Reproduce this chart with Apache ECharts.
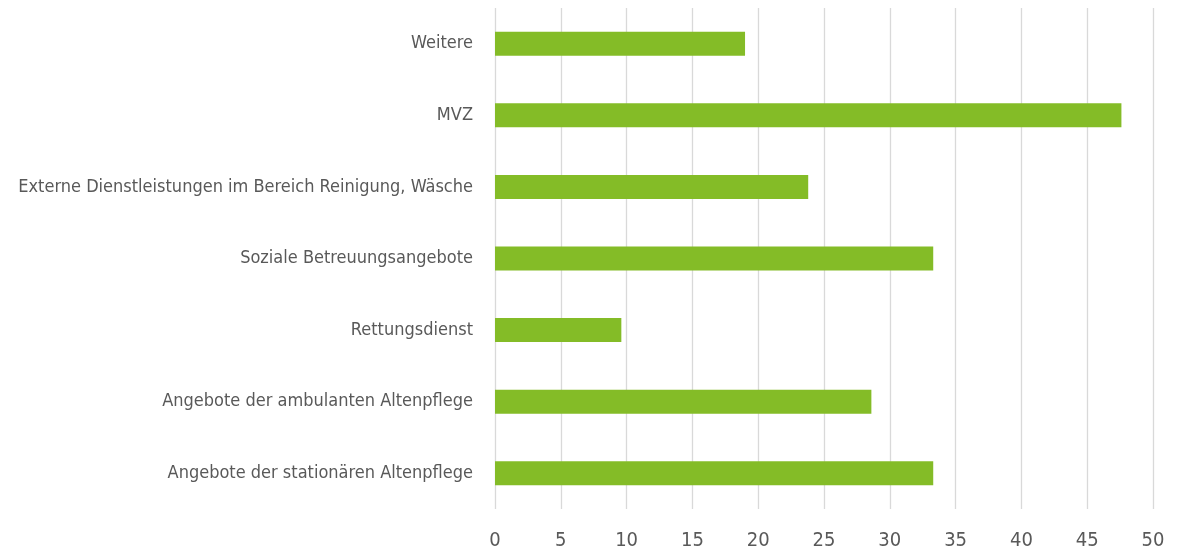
<!DOCTYPE html>
<html>
<head>
<meta charset="utf-8">
<script src="https://cdn.jsdelivr.net/npm/echarts@6/dist/echarts.min.js"></script>
<style>
  html, body { margin: 0; padding: 0; background: #fff; }
  #chart { width: 1191px; height: 553px; }
</style>
</head>
<body>
<div id="chart"></div>
<script>
// categories bottom to top (as on the y axis)
var categories = [
  'Angebote der stationären Altenpflege',
  'Angebote der ambulanten Altenpflege',
  'Rettungsdienst',
  'Soziale Betreuungsangebote',
  'Externe Dienstleistungen im Bereich Reinigung, Wäsche',
  'MVZ',
  'Weitere'
];
var values = [33.3, 28.6, 9.6, 33.3, 23.8, 47.6, 19.0];

var labelFont = '"Liberation Sans Narrow", "DejaVu Sans Condensed", sans-serif';

var chart = echarts.init(document.getElementById('chart'));
var option = {
  animation: false,
  grid: { left: 495, right: 38, top: 8, bottom: 44, containLabel: false },
  xAxis: {
    type: 'value',
    min: 0,
    max: 50,
    interval: 5,
    axisLine: { show: false },
    axisTick: { show: false },
    splitLine: { lineStyle: { color: '#d9d9d9', width: 1.3 } },
    axisLabel: { color: '#595959', fontSize: 20, fontFamily: labelFont, margin: 22 }
  },
  yAxis: {
    type: 'category',
    data: categories,
    axisLine: { show: false },
    axisTick: { show: false },
    axisLabel: { color: '#595959', fontSize: 18, fontFamily: labelFont, margin: 22 }
  },
  series: [{
    type: 'bar',
    data: values,
    barWidth: 24,
    itemStyle: { color: '#84bc27' }
  }]
};
chart.setOption(option);
</script>
</body>
</html>
